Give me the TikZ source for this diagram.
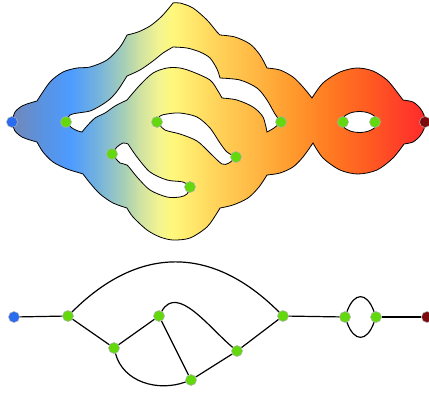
\documentclass[tikz,border=0pt]{standalone}
\definecolor{c0}{HTML}{6C88BF}
\definecolor{c1}{HTML}{6B8BC5}
\definecolor{c2}{HTML}{5B92DD}
\definecolor{c3}{HTML}{4D9BFF}
\definecolor{c4}{HTML}{70B0E0}
\definecolor{c5}{HTML}{8CC0CC}
\definecolor{c6}{HTML}{A9D0B5}
\definecolor{c7}{HTML}{CFE2A2}
\definecolor{c8}{HTML}{F4F590}
\definecolor{c9}{HTML}{FFF87C}
\definecolor{c10}{HTML}{FFE96E}
\definecolor{c11}{HTML}{FFD45A}
\definecolor{c12}{HTML}{FFBB46}
\definecolor{c13}{HTML}{FF9C2E}
\definecolor{c14}{HTML}{FF7A22}
\definecolor{c15}{HTML}{FF5A22}
\definecolor{c16}{HTML}{FF3F28}
\definecolor{c17}{HTML}{FF2A2A}
\pgfdeclarehorizontalshading{surf}{100bp}{color(0bp)=(c0); color(25bp)=(c0); color(26.21bp)=(c1); color(28.39bp)=(c2); color(32.02bp)=(c3); color(35.05bp)=(c4); color(36.86bp)=(c5); color(38.68bp)=(c6); color(40.50bp)=(c7); color(42.92bp)=(c8); color(44.37bp)=(c9); color(46.55bp)=(c10); color(49.58bp)=(c11); color(53.81bp)=(c12); color(58.66bp)=(c13); color(63.50bp)=(c14); color(68.34bp)=(c15); color(71.98bp)=(c16); color(75bp)=(c17); color(100bp)=(c17)}
\definecolor{gnode}{HTML}{63D80C}
\definecolor{bnode}{HTML}{2A6CF0}
\definecolor{rnode}{HTML}{7A0A0E}
\tikzset{
  vdot/.style={circle, inner sep=0pt, minimum size=11pt, draw=black!30, line width=0.5pt},
  gdot/.style={vdot, fill=gnode},
  bdot/.style={vdot, fill=bnode},
  rdot/.style={vdot, fill=rnode},
  outl/.style={draw=black, line width=0.8pt},
  hole/.style={outl, fill=white},
  gedge/.style={line width=1.2pt, draw=black}
}
\def\outerpath{(12,-122)
 -- plot[smooth] coordinates {(12,-122) (15,-112) (22,-106) (30,-103) (37,-101)}
 -- plot[smooth] coordinates {(37,-101) (50,-82) (63,-72) (77,-68) (90,-67) (107,-60) (120,-47) (127,-35)}
 -- plot[smooth] coordinates {(127,-35) (138,-32) (150,-26) (161,-17) (169,-8) (173,-3)}
 -- plot[smooth] coordinates {(173,-3) (180,-3) (193,-8) (207,-20) (217,-32) (220,-35)}
 -- plot[smooth] coordinates {(220,-35) (235,-37) (250,-44) (260,-55) (267,-68)}
 -- plot[smooth] coordinates {(267,-68) (280,-70) (293,-77) (303,-87) (312,-98)}
 -- plot[smooth] coordinates {(312,-98) (323,-83) (340,-72) (357,-68) (373,-71) (387,-80) (397,-92) (403,-100)}
 -- plot[smooth] coordinates {(403,-100) (413,-102) (420,-108) (424,-115) (425,-122)}
 -- plot[smooth] coordinates {(425,-122) (424,-129) (420,-136) (413,-142) (404,-144)}
 -- plot[smooth] coordinates {(404,-144) (393,-158) (377,-170) (358,-174) (340,-170) (323,-158) (313,-143)}
 -- plot[smooth] coordinates {(313,-143) (303,-157) (293,-167) (280,-173) (267,-175)}
 -- plot[smooth] coordinates {(267,-175) (259,-187) (248,-198) (233,-205) (220,-208)}
 -- plot[smooth] coordinates {(220,-208) (217,-213) (207,-227) (190,-238) (173,-240) (160,-237) (147,-230) (133,-217) (127,-208)}
 -- plot[smooth] coordinates {(127,-208) (113,-203) (100,-194) (90,-183) (83,-174)}
 -- plot[smooth] coordinates {(83,-174) (80,-173) (67,-169) (53,-162) (43,-152) (37,-142)}
 -- plot[smooth] coordinates {(37,-142) (30,-140) (22,-137) (15,-131) (12,-122)}
 -- cycle}
\begin{document}
\begin{tikzpicture}[x=1pt, y=1pt]
\useasboundingbox (0,0) rectangle (429,-394);
% surface
\shade[shading=surf, outl] \outerpath;
% hole 1 (A-F)
\path[hole] (66,-122)
 -- plot[smooth] coordinates {(66,-122) (70,-115) (78,-113) (90,-111) (100,-106) (110,-99) (118,-90) (127,-76)}
 -- plot[smooth] coordinates {(127,-76) (140,-70) (153,-61) (163,-53) (173,-47)}
 -- plot[smooth] coordinates {(173,-47) (187,-48) (200,-52) (210,-58) (217,-69) (220,-78)}
 -- plot[smooth] coordinates {(220,-78) (240,-80) (257,-88) (267,-100) (275,-114) (281,-122)}
 -- plot[smooth] coordinates {(281,-122) (274,-128) (267,-132)}
 -- plot[smooth] coordinates {(267,-132) (263,-117) (253,-107) (237,-100) (222,-98)}
 -- plot[smooth] coordinates {(222,-98) (218,-91) (210,-80) (193,-72) (180,-68) (167,-68) (153,-73) (140,-85) (127,-100)}
 -- plot[smooth] coordinates {(127,-100) (115,-106) (105,-113) (95,-118) (87,-126) (82,-132)}
 -- plot[smooth] coordinates {(82,-132) (78,-131) (72,-128) (66,-122)}
 -- cycle;
% hole 2 (C-E)
\path[hole] (157,-122)
 -- plot[smooth] coordinates {(157,-122) (160,-116) (167,-114) (180,-113) (197,-117) (210,-128) (220,-143) (227,-152) (236,-157)}
 -- plot[smooth] coordinates {(236,-157) (229,-163) (222,-164) (210,-153) (197,-141) (180,-134) (165,-130) (157,-122)}
 -- cycle;
% hole 3 (B-D)
\path[hole] (112,-154)
 -- plot[smooth] coordinates {(112,-154) (117,-147) (123,-143) (128,-144)}
 -- plot[smooth] coordinates {(128,-144) (137,-157) (150,-172) (167,-180) (183,-182) (190,-187)}
 -- plot[smooth] coordinates {(190,-187) (187,-194) (180,-197) (167,-197) (150,-190) (137,-177) (127,-165) (120,-163) (112,-154)}
 -- cycle;
% hole 4 (G-H)
\path[hole] (359.5,-122) ellipse [x radius=18, y radius=10.5];
% surface critical points
\node[bdot] (s0) at (12,-122) {};
\node[gdot] (sA) at (66,-122) {};
\node[gdot] (sB) at (112,-154) {};
\node[gdot] (sC) at (157,-122) {};
\node[gdot] (sD) at (190,-187) {};
\node[gdot] (sE) at (236,-157) {};
\node[gdot] (sF) at (281,-122) {};
\node[gdot] (sG) at (343,-122) {};
\node[gdot] (sH) at (375,-122) {};
\node[rdot] (sR) at (425,-122) {};
% Reeb graph
\node[bdot] (g0) at (14,-317) {};
\node[gdot] (gA) at (68,-316) {};
\node[gdot] (gB) at (114,-348) {};
\node[gdot] (gC) at (159,-316) {};
\node[gdot] (gD) at (191,-380) {};
\node[gdot] (gE) at (237,-351) {};
\node[gdot] (gF) at (283,-316) {};
\node[gdot] (gG) at (345,-317) {};
\node[gdot] (gH) at (376,-317) {};
\node[rdot] (gR) at (427,-317) {};
\draw[gedge] (g0) -- (gA);
\draw[gedge] (gA) to[out=45, in=135, looseness=1.17] (gF);
\draw[gedge] (gA) -- (gB);
\draw[gedge] (gB) -- (gC);
\draw[gedge] (gC) -- (gD);
\draw[gedge] (gC) to[out=60, in=140] (gE);
\draw[gedge] (gB) to[out=-75, in=-160] (gD);
\draw[gedge] (gD) -- (gE);
\draw[gedge] (gE) -- (gF);
\draw[gedge] (gF) -- (gG);
\draw[gedge] (gG) .. controls +(70:27) and +(110:27) .. (gH);
\draw[gedge] (gG) .. controls +(-70:27) and +(-110:27) .. (gH);
\draw[gedge] (gH) -- (gR);
\end{tikzpicture}
\end{document}
